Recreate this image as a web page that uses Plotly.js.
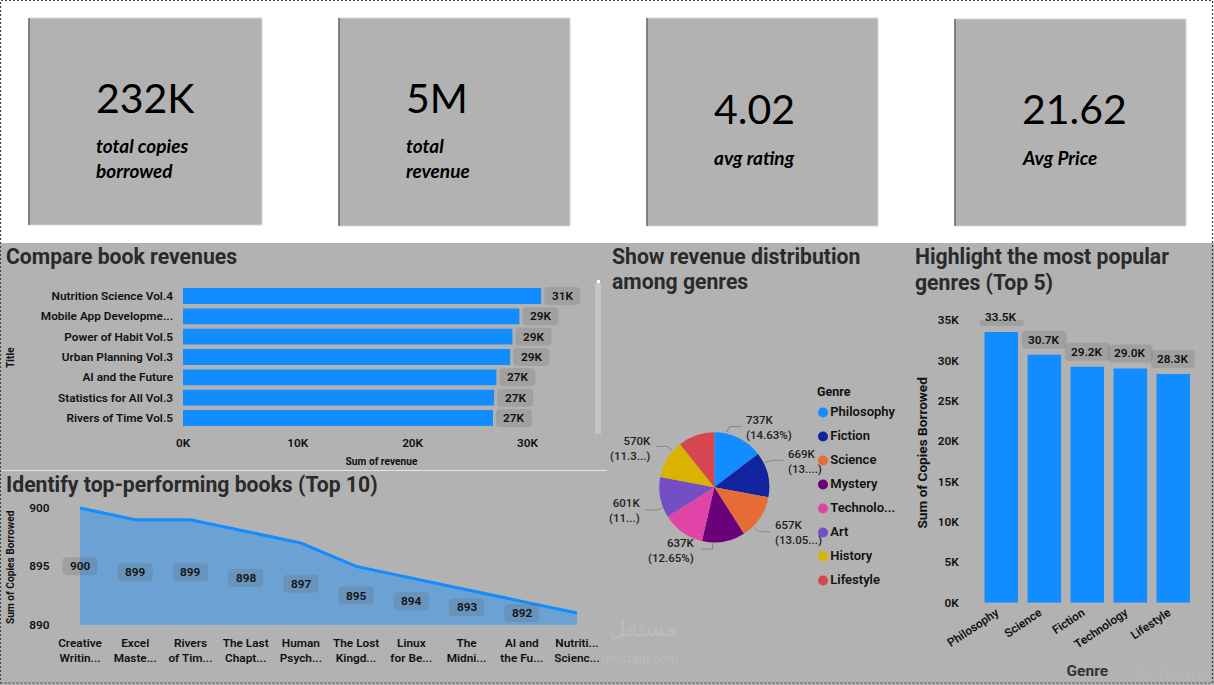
<!DOCTYPE html>
<html><head><meta charset="utf-8">
<script src="https://cdn.plot.ly/plotly-3.0.1.min.js"></script>
<style>html,body{margin:0;padding:0;background:#fff}#chart{width:1214px;height:685px}</style>
</head><body><div id="chart"></div>
<script>
// ---------- data ----------
const revenueTitles = ["Nutrition Science Vol.4","Mobile App Developme...","Power of Habit Vol.5","Urban Planning Vol.3","AI and the Future","Statistics for All Vol.3","Rivers of Time Vol.5"];
const revenueValues = [31200,29300,28700,28500,27300,27100,27000];
const revenueTickVals = [0,10000,20000,30000];
const revenueTickText = ["0K","10K","20K","30K"];

const topBooks = ["Creative<br>Writin...","Excel<br>Maste...","Rivers<br>of Tim...","The Last<br>Chapt...","Human<br>Psych...","The Lost<br>Kingd...","Linux<br>for Be...","The<br>Midni...","AI and<br>the Fu...","Nutriti...<br>Scienc..."];
const topCopies = [900,899,899,898,897,895,894,893,892,891];
const topTickVals = [890,895,900];

const genres = ["Philosophy","Fiction","Science","Mystery","Technology","Art","History","Lifestyle"];
const genreLegendText = ["Philosophy","Fiction","Science","Mystery","Technolo...","Art","History","Lifestyle"];
const genreRevenue = [737000,669000,657000,637000,630000,601000,570000,537000];
const genreColors = ["#118DFF","#12239E","#E66C37","#6B007B","#E044A7","#744EC2","#D9B300","#D64550"];

const popGenres = ["Philosophy","Science","Fiction","Technology","Lifestyle"];
const popCopies = [33500,30700,29200,29000,28300];
const popLabels = ["33.5K","30.7K","29.2K","29.0K","28.3K"];
const popTickVals = [0,5000,10000,15000,20000,25000,30000,35000];
const popTickText = ["0K","5K","10K","15K","20K","25K","30K","35K"];

const kpiValues = ["232K","5M","4.02","21.62"];
const kpiLabels = ["total copies<br>borrowed","total<br>revenue","avg rating","Avg Price"];

const pieLabels = [
 {t:"737K<br>(14.63%)",  x:744, y:427.5, a:"left",  p:[[380,157],[388,140],[425,140]]},
 {t:"669K<br>(13....)",  x:786, y:461.7, a:"left",  p:[[496,247],[515,241],[550,241]]},
 {t:"657K<br>(13.05...)",x:773.3,y:532.7,a:"left",  p:[[462,442],[475,455],[510,455]]},
 {t:"637K<br>(12.65%)",  x:697.3,y:550.3,a:"right", p:[[338,490],[338,507],[303,507]]},
 {t:"601K<br>(11...)",   x:641.7,y:510.3,a:"right", p:[[188,383],[170,390],[135,390]]},
 {t:"570K<br>(11.3...)", x:652.7,y:448.7,a:"right", p:[[216,210],[200,199],[170,199]]}
];

// ---------- layout helpers ----------
const W=1214,H=685;
const xp=px=>px/W, yp=py=>1-py/H;
const BG="#b2b2b2", BLUE="#118DFF", INK="#111111", HEAD="#2a2a2a";
const TICK={family:"Roboto, sans-serif",size:11.8,color:INK,weight:600};
const HEADF={family:"Roboto, sans-serif",size:21.2,color:HEAD,weight:700};
const SMALLT={family:"Roboto, sans-serif",size:10.2,color:INK,weight:700};
const PILL="rgba(90,90,90,0.2)";

const shapes=[],annotations=[];
function head(x,y,text){annotations.push({xref:"paper",yref:"paper",x:xp(x),y:yp(y),xanchor:"left",yanchor:"middle",align:"left",showarrow:false,text,font:HEADF});}
function pill(xref,yref,xv,yv,w,h,dx,dy,text,font){
  const r=4,l=dx-w/2,rt=dx+w/2,b=dy-h/2,t=dy+h/2;
  const path=`M ${l+r} ${b} L ${rt-r} ${b} Q ${rt} ${b} ${rt} ${b+r} L ${rt} ${t-r} Q ${rt} ${t} ${rt-r} ${t} L ${l+r} ${t} Q ${l} ${t} ${l} ${t-r} L ${l} ${b+r} Q ${l} ${b} ${l+r} ${b} Z`;
  shapes.push({type:"path",path,xref,yref,xsizemode:"pixel",ysizemode:"pixel",xanchor:xv,yanchor:yv,fillcolor:PILL,line:{width:0},layer:"above"});
  annotations.push({xref,yref,x:xv,y:yv,xshift:dx,yshift:dy,showarrow:false,text,font:font||TICK,xanchor:"center",yanchor:"middle"});
}

// backgrounds
shapes.push({type:"rect",xref:"paper",yref:"paper",x0:0,x1:1,y0:0,y1:yp(243),fillcolor:BG,line:{width:0},layer:"below"});
[[29,262,18,225],[339,570,18,226],[647,878,18,226],[955,1186,19,226]].forEach(c=>{
  shapes.push({type:"rect",xref:"paper",yref:"paper",x0:xp(c[0]),x1:xp(c[1]),y0:yp(c[3]),y1:yp(c[2]),fillcolor:BG,line:{width:1,color:"#d6d6d6"},layer:"below"});
  shapes.push({type:"line",xref:"paper",yref:"paper",x0:xp(c[0]),x1:xp(c[0]),y0:yp(c[3]),y1:yp(c[2]),line:{width:1.5,color:"#666666"},layer:"below"});
});
// dotted page frame, separator, scrollbar
shapes.push({type:"rect",xref:"paper",yref:"paper",x0:xp(0.5),x1:xp(1212.5),y0:yp(683),y1:yp(0.5),line:{width:1.2,color:"#444444",dash:"2px,2px"},layer:"above"});
shapes.push({type:"line",xref:"paper",yref:"paper",x0:0,x1:xp(607),y0:yp(470.5),y1:yp(470.5),line:{width:1,color:"#e6e6e6"},layer:"below"});
shapes.push({type:"rect",xref:"paper",yref:"paper",x0:xp(595),x1:xp(601),y0:yp(434),y1:yp(283),fillcolor:"#c6c6c6",line:{width:0},layer:"below"});
shapes.push({type:"rect",xref:"paper",yref:"paper",x0:xp(597),x1:xp(600),y0:yp(283),y1:yp(280),fillcolor:"#ffffff",line:{width:0},layer:"below"});

// KPI cards
const kpiX=[94,404,712,1020], kpiY=[97,97,109,109], kpiLY=[157.5,157.5,158,158];
kpiValues.forEach((v,i)=>{
  annotations.push({xref:"paper",yref:"paper",x:xp(kpiX[i]),y:yp(kpiY[i]),xanchor:"left",yanchor:"middle",showarrow:false,text:v,font:{family:"Lato, sans-serif",size:41,color:"#000"}});
  annotations.push({xref:"paper",yref:"paper",x:xp(kpiX[i]),y:yp(kpiLY[i]),xanchor:"left",yanchor:"middle",align:"left",showarrow:false,text:"<b><i>"+kpiLabels[i]+"</i></b>",font:{family:"Lato, sans-serif",size:19,color:"#000"}});
});

// section titles
head(4,256,"Compare book revenues");
head(4,484,"Identify top-performing books (Top 10)");
head(610,256,"Show revenue distribution");
head(610,281,"among genres");
head(913,256,"Highlight the most popular");
head(913,282,"genres (Top 5)");

// data-label pills (the area chart draws them at the midpoint of value and baseline; last point unlabelled)
revenueValues.forEach((v,i)=>pill("x","y",v,revenueTitles[i],36,18,21,0,Math.round(v/1000)+"K"));
topCopies.slice(0,9).forEach((v,i)=>pill("x2","y2",topBooks[i],(v+topTickVals[0])/2,35,18,0,0,String(v)));
popCopies.forEach((v,i)=>pill("x3","y3",popGenres[i],v,45,18,0,15,popLabels[i]));

// pie labels + leaders
pieLabels.forEach(l=>{
  annotations.push({xref:"paper",yref:"paper",x:xp(l.x),y:yp(l.y),xanchor:l.a,yanchor:"middle",align:l.a,showarrow:false,text:l.t,font:{family:"Roboto, sans-serif",size:11.5,color:"#222",weight:500}});
  const P=l.p.map(q=>[xp(600+q[0]/3),yp(380+q[1]/3)]);
  shapes.push({type:"path",xref:"paper",yref:"paper",path:`M ${P[0][0]} ${P[0][1]} L ${P[1][0]} ${P[1][1]} L ${P[2][0]} ${P[2][1]}`,line:{width:1,color:"#858585"}});
});
annotations.push({xref:"paper",yref:"paper",x:xp(815),y:yp(391),xanchor:"left",yanchor:"middle",showarrow:false,text:"Genre",font:{family:"Roboto, sans-serif",size:12.5,color:INK,weight:700}});

// y titles placed at the reference's exact spots
annotations.push({xref:"paper",yref:"paper",x:xp(922),y:yp(453.5),xanchor:"center",yanchor:"middle",textangle:-90,showarrow:false,text:"Sum of Copies Borrowed",font:{family:"Roboto, sans-serif",size:13.6,color:INK,weight:700}});
annotations.push({xref:"paper",yref:"paper",x:xp(10),y:yp(358),xanchor:"center",yanchor:"middle",textangle:-90,showarrow:false,text:"Title",font:SMALLT});
annotations.push({xref:"paper",yref:"paper",x:xp(10),y:yp(567),xanchor:"center",yanchor:"middle",textangle:-90,showarrow:false,text:"Sum of Copies Borrowed",font:SMALLT});

// faint screenshot watermarks
annotations.push({xref:"paper",yref:"paper",x:xp(680),y:yp(628),xanchor:"right",yanchor:"middle",showarrow:false,text:"مستقل",font:{family:"'DejaVu Sans', sans-serif",size:23,color:"rgba(255,255,255,0.14)"}});
annotations.push({xref:"paper",yref:"paper",x:xp(680),y:yp(658),xanchor:"right",yanchor:"middle",showarrow:false,text:"mostaql.com",font:{family:"Roboto, sans-serif",size:13,color:"rgba(255,255,255,0.14)"}});
annotations.push({xref:"paper",yref:"paper",x:xp(1133),y:yp(674),xanchor:"left",yanchor:"middle",showarrow:false,text:"Activate",font:{family:"Roboto, sans-serif",size:20,color:"rgba(255,255,255,0.07)"}});

const traces=[
 {type:"bar",orientation:"h",x:revenueValues,y:revenueTitles,xaxis:"x",yaxis:"y",marker:{color:BLUE},hoverinfo:"x+y"},
 {type:"scatter",mode:"lines",x:topBooks,y:topCopies,xaxis:"x2",yaxis:"y2",fill:"tozeroy",fillcolor:"rgba(17,141,255,0.43)",line:{color:BLUE,width:3}},
 {type:"bar",x:popGenres,y:popCopies,xaxis:"x3",yaxis:"y3",marker:{color:BLUE}},
 {type:"pie",labels:genres,values:genreRevenue,sort:false,direction:"clockwise",rotation:0,marker:{colors:genreColors},textinfo:"none",
  domain:{x:[xp(659.3),xp(769.3)],y:[yp(542.3),yp(432.3)]}},
 {type:"scatter",mode:"markers+text",x:genres.map(()=>0),y:genres.map((g,i)=>i),text:genreLegendText,textposition:"middle right",cliponaxis:false,
  xaxis:"x4",yaxis:"y4",marker:{size:10,color:genreColors},textfont:{family:"Roboto, sans-serif",size:13,color:INK,weight:600},hoverinfo:"text"}
];

const layout={
 width:W,height:H,margin:{l:0,r:0,t:0,b:0},paper_bgcolor:"#ffffff",plot_bgcolor:"rgba(0,0,0,0)",showlegend:false,font:{family:"Roboto, sans-serif"},
 bargap:0.22,
 xaxis:{domain:[xp(183),xp(580)],range:[0,34580],tickmode:"array",tickvals:revenueTickVals,ticktext:revenueTickText,showgrid:false,zeroline:false,showline:false,tickfont:TICK,ticks:"",anchor:"y",
   ticklabelstandoff:6,title:{text:"Sum of revenue",standoff:8,font:SMALLT}},
 yaxis:{domain:[yp(428.2),yp(285.8)],autorange:"reversed",type:"category",showgrid:false,zeroline:false,showline:false,tickfont:TICK,ticks:"",anchor:"x",ticklabelstandoff:9},
 xaxis2:{domain:[xp(52.4),xp(604.6)],type:"category",range:[-0.5,9.5],showgrid:false,zeroline:false,showline:false,tickfont:TICK,ticks:"",anchor:"y2",ticklabelstandoff:9},
 yaxis2:{domain:[yp(624.7),yp(504.5)],range:[890,900.3],tickmode:"array",tickvals:topTickVals,showgrid:false,zeroline:false,showline:false,tickfont:TICK,ticks:"",anchor:"x2",ticklabelstandoff:2},
 xaxis3:{domain:[xp(979.8),xp(1194.8)],type:"category",range:[-0.5,4.5],tickangle:-34,ticklabelshift:-5,showgrid:false,zeroline:false,showline:false,tickfont:TICK,ticks:"",anchor:"y3",
   title:{text:"Genre",standoff:14,font:{family:"Roboto, sans-serif",size:15.5,color:"#333",weight:700}}},
 yaxis3:{domain:[yp(602.7),yp(320)],range:[0,35000],tickmode:"array",tickvals:popTickVals,ticktext:popTickText,showgrid:false,zeroline:false,showline:false,tickfont:TICK,ticks:"",anchor:"x3",ticklabelstandoff:20},
 xaxis4:{domain:[xp(810),xp(910)],range:[-13,87],visible:false,anchor:"y4"},
 yaxis4:{domain:[yp(592.5),yp(400.5)],range:[7.5,-0.5],visible:false,anchor:"x4"},
 shapes,annotations
};
Plotly.newPlot("chart",traces,layout,{displayModeBar:false,responsive:false});
</script></body></html>
